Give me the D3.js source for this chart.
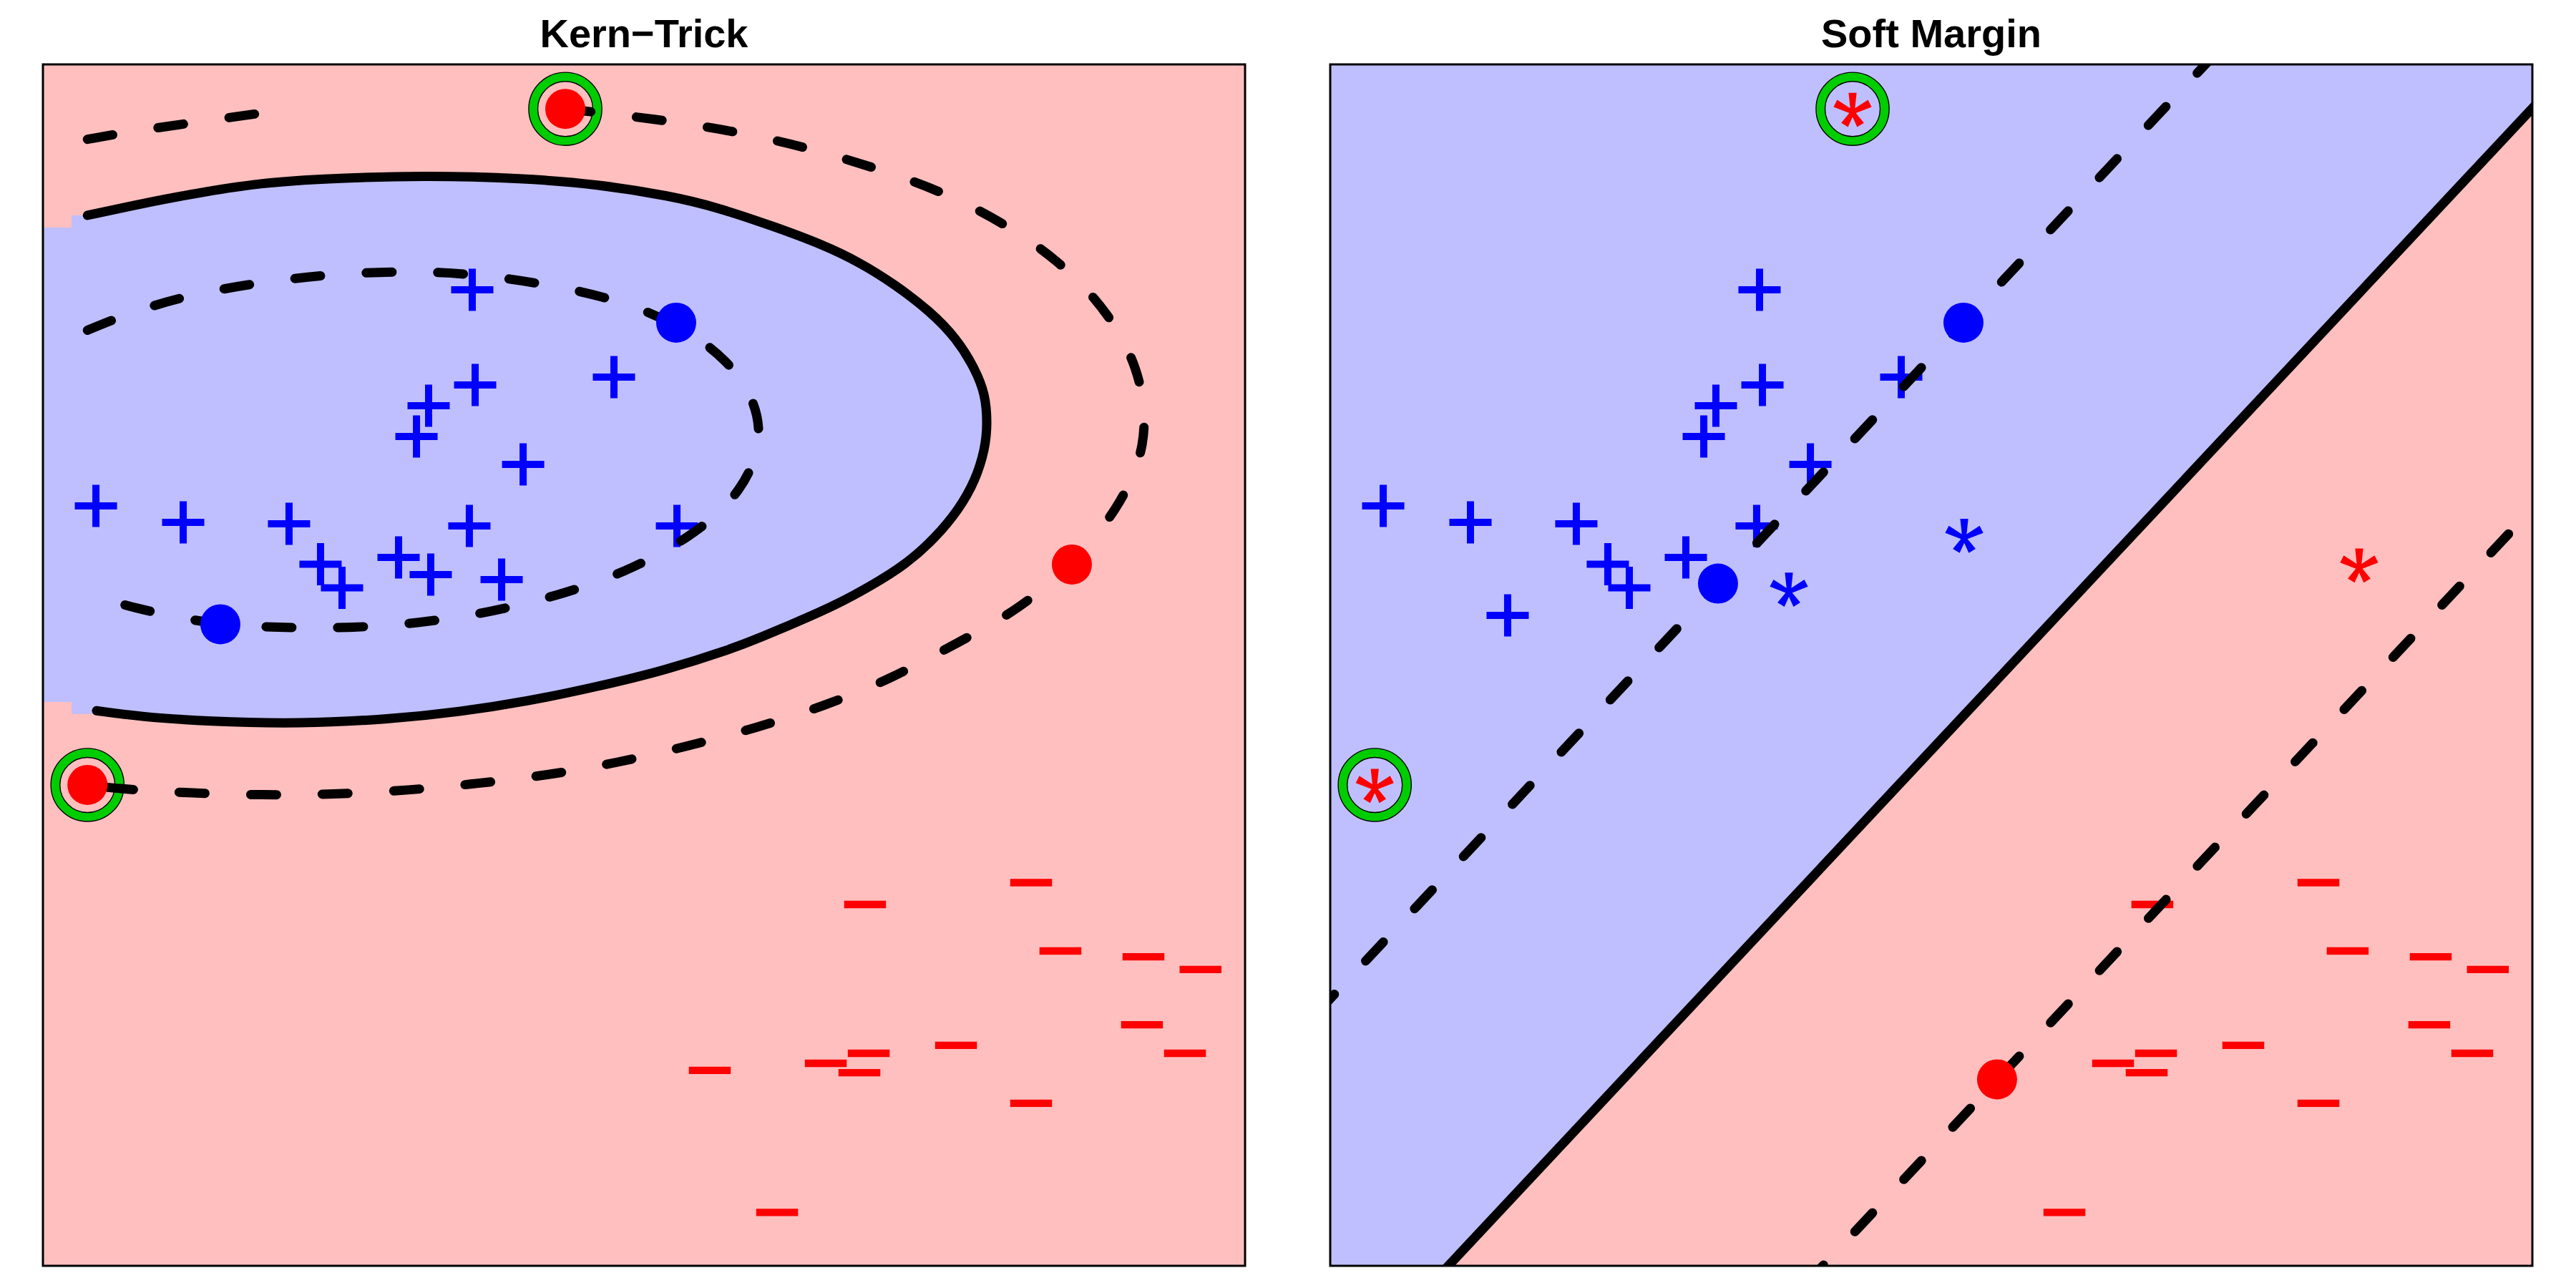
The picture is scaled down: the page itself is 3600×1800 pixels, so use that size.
<!DOCTYPE html>
<html><head><meta charset="utf-8">
<script src="https://cdn.jsdelivr.net/npm/d3@7"></script>
<style>html,body{margin:0;padding:0;background:#fff;}svg{display:block;}</style>
</head><body>
<svg id="chart" width="3600" height="1800"></svg>
<script>
// ================= DATA =================
const panelTitles = ["Kern\u2212Trick", "Soft Margin"];

// class +1 (blue) training points
const blueX = [3.457,3.483,3.065,2.956,4.730,3.914,0.076,0.860,1.811,3.431,5.296,2.094,2.287,2.795,3.084,3.721,5.289,1.194];
const blueY = [8.293,7.438,7.251,6.975,7.509,6.724,6.351,6.203,6.190,6.171,6.171,5.827,5.614,5.888,5.733,5.688,8.078,5.367];
// class -1 (red) training points
const redX = [4.293,0.000,8.844,8.478,6.986,8.741,9.487,10.000,9.474,7.803,7.019,6.633,6.935,5.591,9.860,8.478,6.196];
const redY = [10.000,3.923,5.904,2.964,2.768,2.350,2.298,2.183,1.687,1.501,1.430,1.340,1.256,1.276,1.430,0.980,0.000];

// symbol per point ("+", "-", "*", "sv" = support vector dot)
const kernBlueSym = ["+","+","+","+","+","+","+","+","+","+","+","+","+","+","+","+","sv","sv"];
const kernRedSym  = ["sv","sv","sv","-","-","-","-","-","-","-","-","-","-","-","-","-","-"];
const kernRedRing = [1,1,0,0,0,0,0,0,0,0,0,0,0,0,0,0,0];
const softBlueSym = ["+","+","+","+","+","+","+","+","+","+","*","+","+","+","sv","*","sv","+"];
const softRedSym  = ["*","*","*","-","-","-","-","-","-","-","-","-","-","sv","-","-","-"];
const softRedRing = [1,1,0,0,0,0,0,0,0,0,0,0,0,0,0,0,0];

// Kern-Trick: decision boundary (level 0)
const kernBoundaryX = [0.000,0.596,0.963,1.477,2.069,3.033,3.914,4.582,5.244,5.643,6.176,6.607,6.929,7.250,7.571,7.809,7.976,8.066,8.086,8.066,7.976,7.829,7.616,7.359,7.038,6.716,6.395,6.029,5.804,5.186,4.569,3.959,3.341,2.724,1.908,1.085,0.474,0.082];
const kernBoundaryY = [9.043,9.171,9.238,9.326,9.371,9.403,9.377,9.324,9.216,9.120,8.940,8.779,8.625,8.425,8.181,7.936,7.660,7.435,7.177,6.946,6.656,6.399,6.142,5.910,5.711,5.537,5.396,5.241,5.151,4.952,4.804,4.675,4.579,4.514,4.471,4.493,4.536,4.590];
// blue raster cells at the left edge of the grid
const kernRegionEndX = [0.082,-0.143,-0.143,-0.500];
const kernRegionEndY = [4.561,4.561,4.669,4.669];
const kernRegionStartX = [-0.500,-0.143,-0.143,0.000];
const kernRegionStartY = [8.933,8.933,9.043,9.043];
// inner margin (level +1)
const kernInnerX = [0.000,0.395,0.911,1.539,2.166,2.808,3.421,4.085,4.712,5.289,5.819,6.114,5.893,5.413,4.823,4.232,3.611,2.981,2.339,1.696,1.194,0.950,0.432,0.000];
const kernInnerY = [8.010,8.173,8.328,8.439,8.513,8.542,8.524,8.432,8.302,8.078,7.711,7.139,6.548,6.142,5.828,5.625,5.473,5.376,5.331,5.336,5.367,5.404,5.507,5.640];
// outer margin (level -1): piece cut by the grid top, and main piece
const kernOuterTopX = [0.000,0.395,0.911,1.575,1.830];
const kernOuterTopY = [9.727,9.797,9.871,9.964,10.000];
const kernOuterX = [4.293,5.118,5.782,6.410,7.037,7.627,8.218,8.734,9.177,9.472,9.531,9.251,8.844,8.365,7.848,7.221,6.631,6.003,5.376,4.749,4.122,3.494,2.867,2.204,1.575,0.911,0.247,0.000];
const kernOuterY = [10.000,9.908,9.805,9.668,9.483,9.281,8.985,8.634,8.173,7.619,6.973,6.382,5.904,5.496,5.219,4.876,4.636,4.433,4.267,4.119,4.008,3.934,3.872,3.838,3.831,3.849,3.890,3.923];

// Soft Margin: linear boundary and margins, two points each
const softBoundaryX = [0.667,10.394];
const softBoundaryY = [-0.394,10.000];
const softUpperX = [3.091,5.289];
const softUpperY = [5.730,8.078];
const softLowerX = [5.598,10.156];
const softLowerY = [1.279,6.147];

// ================= STYLE / LAYOUT =================
const PINK = "#FFBFBF", LAV = "#BFBFFF", BLUE = "#0000FF", RED = "#FF0000", GREEN = "#00CD00";
const PW = 1680, PH = 1679, PT = 90;
const panelLeft = [60, 1859];
const LW = 13, DASH = "36 64";
const plusHalf = 29.5, barW = 10, minusHalf = 29.25, minusW = 10.3, glyphLift = 12.5;
const svR = 28, ringR = 44.8;

const svg = d3.select("#chart");
const allX = blueX.concat(redX), allY = blueY.concat(redY);
const xe = d3.extent(allX), ye = d3.extent(allY);
const px = (xe[1]-xe[0])*0.04, py = (ye[1]-ye[0])*0.04;
const x = d3.scaleLinear().domain([xe[0]-px, xe[1]+px]).range([0, PW]);
const y = d3.scaleLinear().domain([ye[0]-py, ye[1]+py]).range([PH, 0]);

const zip = (a,b) => a.map((v,i)=>[v,b[i]]);
const curve = d3.line().x(d=>x(d[0])).y(d=>y(d[1])).curve(d3.curveBasis);
const poly = pts => pts.map(d=>x(d[0])+","+y(d[1])).join(" L");

function plusPath(cx, cy){
  return `M${cx-plusHalf},${cy-barW/2}h${2*plusHalf}v${barW}h${-2*plusHalf}Z M${cx-barW/2},${cy-plusHalf}h${barW}v${2*plusHalf}h${-barW}Z`;
}
function minusPath(cx, cy){
  return `M${cx-minusHalf},${cy-minusW/2}h${2*minusHalf}v${minusW}h${-2*minusHalf}Z`;
}
// font-like 5-armed asterisk
const starArms = [[-90,27],[-27,27],[-153,27],[58,21],[122,21]];
function starPath(cx, cy){
  const c = [cx, cy+4.6];
  let p = "";
  starArms.forEach(([a,L])=>{
    const r = a*Math.PI/180, ux = Math.cos(r), uy = Math.sin(r), nx = -uy, ny = ux;
    const w0 = 2.8, w1 = 5.6;
    const tx = c[0]+ux*L, ty = c[1]+uy*L;
    p += `M${c[0]+nx*w0},${c[1]+ny*w0}L${tx+nx*w1},${ty+ny*w1}L${tx-nx*w1},${ty-ny*w1}L${c[0]-nx*w0},${c[1]-ny*w0}Z`;
  });
  return p;
}

function drawPanel(i, cfg){
  const g = svg.append("g").attr("transform", `translate(${panelLeft[i]},${PT})`);
  const clipId = "clip"+i;
  g.append("clipPath").attr("id", clipId).append("rect").attr("width", PW).attr("height", PH);
  const body = g.append("g").attr("clip-path", `url(#${clipId})`);

  cfg.background(body);

  const pts = [];
  blueX.forEach((v,k)=>pts.push({x:v, y:blueY[k], col:BLUE, sym:cfg.blueSym[k], ring:0}));
  redX.forEach((v,k)=>pts.push({x:v, y:redY[k], col:RED, sym:cfg.redSym[k], ring:cfg.redRing[k]}));

  // glyph symbols
  body.selectAll("path.glyph").data(pts.filter(d=>d.sym!=="sv")).join("path")
    .attr("class","glyph").attr("fill", d=>d.col)
    .attr("d", d=>{
      const cx = x(d.x), cy = y(d.y);
      if (d.sym==="+") return plusPath(cx, cy-glyphLift);
      if (d.sym==="-") return minusPath(cx, cy-glyphLift);
      return starPath(cx, cy);
    });

  // rings
  const rings = pts.filter(d=>d.ring);
  body.selectAll("circle.ringb").data(rings).join("circle").attr("class","ringb")
    .attr("cx", d=>x(d.x)).attr("cy", d=>y(d.y)).attr("r", ringR)
    .attr("fill","none").attr("stroke","#000").attr("stroke-width", 14);
  body.selectAll("circle.ringg").data(rings).join("circle").attr("class","ringg")
    .attr("cx", d=>x(d.x)).attr("cy", d=>y(d.y)).attr("r", ringR)
    .attr("fill","none").attr("stroke",GREEN).attr("stroke-width", 11.2);

  cfg.lines(body);

  // support-vector dots
  body.selectAll("circle.sv").data(pts.filter(d=>d.sym==="sv")).join("circle").attr("class","sv")
    .attr("cx", d=>x(d.x)).attr("cy", d=>y(d.y)).attr("r", svR).attr("fill", d=>d.col);

  // frame
  g.append("rect").attr("width", PW).attr("height", PH).attr("fill","none")
    .attr("stroke","#000").attr("stroke-width", 3);

  // title
  g.append("text").attr("x", PW/2).attr("y", 66-PT).attr("text-anchor","middle")
    .attr("font-family","'Liberation Sans', Arial, Helvetica, sans-serif")
    .attr("font-weight","bold").attr("font-size", 56).attr("fill","#000").text(cfg.title);
}

function strokeLine(sel, d, dashed){
  sel.append("path").attr("d", d).attr("fill","none").attr("stroke","#000")
    .attr("stroke-width", LW).attr("stroke-linecap","round").attr("stroke-linejoin","round")
    .attr("stroke-dasharray", dashed ? DASH : null);
}

// Kern-Trick
drawPanel(0, {
  title: panelTitles[0], blueSym: kernBlueSym, redSym: kernRedSym, redRing: kernRedRing,
  background(b){
    b.append("rect").attr("width", PW).attr("height", PH).attr("fill", PINK);
    const bnd = zip(kernBoundaryX, kernBoundaryY);
    const d = curve(bnd) + " L" + poly(zip(kernRegionEndX, kernRegionEndY)) + " L" + poly(zip(kernRegionStartX, kernRegionStartY)) + "Z";
    b.append("path").attr("d", d).attr("fill", LAV);
  },
  lines(b){
    strokeLine(b, curve(zip(kernBoundaryX, kernBoundaryY)), false);
    strokeLine(b, curve(zip(kernInnerX, kernInnerY)), true);
    strokeLine(b, curve(zip(kernOuterTopX, kernOuterTopY)), true);
    strokeLine(b, curve(zip(kernOuterX, kernOuterY)), true);
  }
});

// Soft Margin
function extend(xs, ys){
  const s = (ys[1]-ys[0])/(xs[1]-xs[0]);
  const x0 = x.domain()[0]-1, x1 = x.domain()[1]+1;
  return [[x0, ys[0]+s*(x0-xs[0])],[x1, ys[0]+s*(x1-xs[0])]];
}
drawPanel(1, {
  title: panelTitles[1], blueSym: softBlueSym, redSym: softRedSym, redRing: softRedRing,
  background(b){
    b.append("rect").attr("width", PW).attr("height", PH).attr("fill", LAV);
    const L = extend(softBoundaryX, softBoundaryY);
    const pts = [L[0], L[1], [L[1][0], Math.min(L[0][1], y.domain()[0]-1)]];
    b.append("path").attr("d", "M" + poly(pts) + "Z").attr("fill", PINK);
  },
  lines(b){
    const ln = pts => "M" + poly(pts);
    strokeLine(b, ln(extend(softBoundaryX, softBoundaryY)), false);
    strokeLine(b, ln(extend(softUpperX, softUpperY)), true);
    strokeLine(b, ln(extend(softLowerX, softLowerY)), true);
  }
});
</script>
</body></html>
